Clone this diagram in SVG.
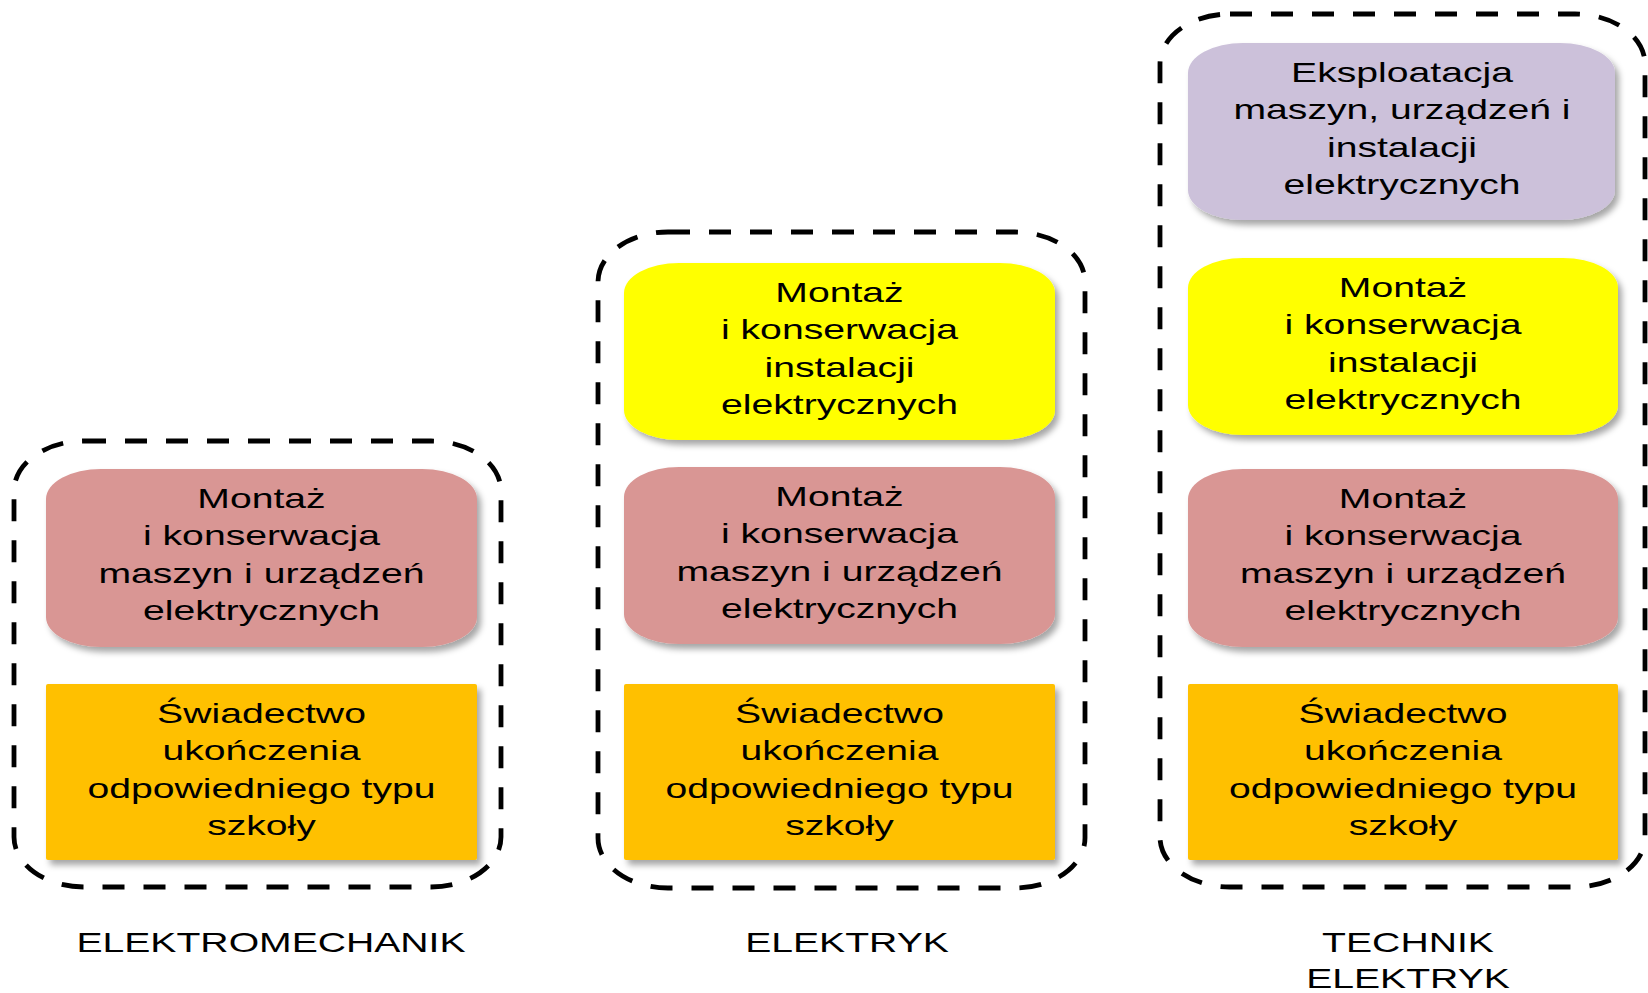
<svg xmlns="http://www.w3.org/2000/svg" width="1648" height="993" viewBox="0 0 1648 993">
<style>
.frame{fill:none;stroke:#000;stroke-width:4.8;stroke-dasharray:22 19}
.t{font-family:"Liberation Sans",Arial,sans-serif;font-size:27px;fill:#000;text-anchor:middle}
.pink{fill:#D99694}
.yel{fill:#FFFF00}
.pur{fill:#CCC1DA}
.ora{fill:#FFC000}
</style>
<defs>
<filter id="sh" x="-10%" y="-10%" width="125%" height="130%">
<feDropShadow dx="4" dy="5" stdDeviation="3" flood-color="#000" flood-opacity="0.35"/>
</filter>
</defs>
<rect width="1648" height="993" fill="#fff"/>

<g id="connectors"></g>

<g id="group-elektromechanik">
<rect class="frame" x="14" y="441" width="487" height="446" rx="70" ry="50"/>
</g>
<g id="group-elektryk">
<rect class="frame" x="598" y="232" width="487" height="656" rx="70" ry="50"/>
</g>
<g id="group-technik">
<rect class="frame" x="1160" y="14" width="485" height="873" rx="70" ry="50"/>
</g>

<g id="n-l-pink">
<rect class="pink" filter="url(#sh)" x="46" y="469" width="431" height="178" rx="55" ry="30"/>
<text class="t" transform="translate(261.5,508) scale(1.45,1)"><tspan x="0">Montaż</tspan><tspan x="0" dy="37.5">i konserwacja</tspan><tspan x="0" dy="37.5">maszyn i urządzeń</tspan><tspan x="0" dy="37.5">elektrycznych</tspan></text>
</g>
<g id="n-l-orange">
<rect class="ora" filter="url(#sh)" x="46" y="684" width="431" height="176" rx="2"/>
<text class="t" transform="translate(261.5,723) scale(1.45,1)"><tspan x="0">Świadectwo</tspan><tspan x="0" dy="37.5">ukończenia</tspan><tspan x="0" dy="37.5">odpowiedniego typu</tspan><tspan x="0" dy="37.5">szkoły</tspan></text>
</g>

<g id="n-m-yellow">
<rect class="yel" filter="url(#sh)" x="624" y="263" width="431" height="177" rx="55" ry="30"/>
<text class="t" transform="translate(839.5,302) scale(1.45,1)"><tspan x="0">Montaż</tspan><tspan x="0" dy="37.5">i konserwacja</tspan><tspan x="0" dy="37.5">instalacji</tspan><tspan x="0" dy="37.5">elektrycznych</tspan></text>
</g>
<g id="n-m-pink">
<rect class="pink" filter="url(#sh)" x="624" y="467" width="431" height="177" rx="55" ry="30"/>
<text class="t" transform="translate(839.5,506) scale(1.45,1)"><tspan x="0">Montaż</tspan><tspan x="0" dy="37.5">i konserwacja</tspan><tspan x="0" dy="37.5">maszyn i urządzeń</tspan><tspan x="0" dy="37.5">elektrycznych</tspan></text>
</g>
<g id="n-m-orange">
<rect class="ora" filter="url(#sh)" x="624" y="684" width="431" height="176" rx="2"/>
<text class="t" transform="translate(839.5,723) scale(1.45,1)"><tspan x="0">Świadectwo</tspan><tspan x="0" dy="37.5">ukończenia</tspan><tspan x="0" dy="37.5">odpowiedniego typu</tspan><tspan x="0" dy="37.5">szkoły</tspan></text>
</g>

<g id="n-r-purple">
<rect class="pur" filter="url(#sh)" x="1188" y="43" width="427" height="177" rx="55" ry="30"/>
<text class="t" transform="translate(1402,82) scale(1.45,1)"><tspan x="0">Eksploatacja</tspan><tspan x="0" dy="37.5">maszyn, urządzeń i</tspan><tspan x="0" dy="37.5">instalacji</tspan><tspan x="0" dy="37.5">elektrycznych</tspan></text>
</g>
<g id="n-r-yellow">
<rect class="yel" filter="url(#sh)" x="1188" y="258" width="430" height="177" rx="55" ry="30"/>
<text class="t" transform="translate(1403,297) scale(1.45,1)"><tspan x="0">Montaż</tspan><tspan x="0" dy="37.5">i konserwacja</tspan><tspan x="0" dy="37.5">instalacji</tspan><tspan x="0" dy="37.5">elektrycznych</tspan></text>
</g>
<g id="n-r-pink">
<rect class="pink" filter="url(#sh)" x="1188" y="469" width="430" height="178" rx="55" ry="30"/>
<text class="t" transform="translate(1403,508) scale(1.45,1)"><tspan x="0">Montaż</tspan><tspan x="0" dy="37.5">i konserwacja</tspan><tspan x="0" dy="37.5">maszyn i urządzeń</tspan><tspan x="0" dy="37.5">elektrycznych</tspan></text>
</g>
<g id="n-r-orange">
<rect class="ora" filter="url(#sh)" x="1188" y="684" width="430" height="176" rx="2"/>
<text class="t" transform="translate(1403,723) scale(1.45,1)"><tspan x="0">Świadectwo</tspan><tspan x="0" dy="37.5">ukończenia</tspan><tspan x="0" dy="37.5">odpowiedniego typu</tspan><tspan x="0" dy="37.5">szkoły</tspan></text>
</g>

<g id="labels">
<text class="t" transform="translate(271,952) scale(1.45,1)">ELEKTROMECHANIK</text>
<text class="t" transform="translate(847,952) scale(1.45,1)">ELEKTRYK</text>
<text class="t" transform="translate(1408,952) scale(1.45,1)"><tspan x="0">TECHNIK</tspan><tspan x="0" dy="36">ELEKTRYK</tspan></text>
</g>
</svg>
